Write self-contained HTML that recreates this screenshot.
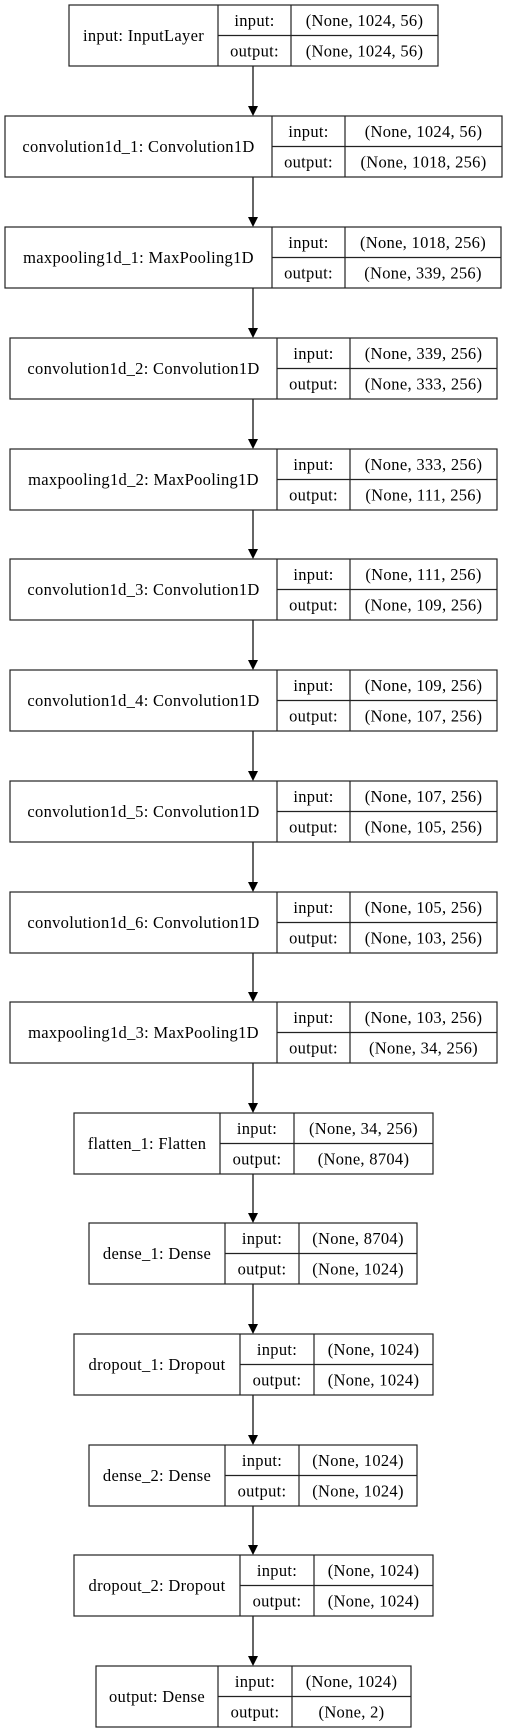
<!DOCTYPE html>
<html><head><meta charset="utf-8"><style>
html,body{margin:0;padding:0;background:#fff}
svg{display:block}
text{font-family:"Liberation Serif",serif;font-size:16.5px;letter-spacing:0.3px;fill:#000;text-anchor:middle}
rect,line.b{fill:none;stroke:#222;stroke-width:1.2}
line.a{stroke:#000;stroke-width:1.2}
</style></head><body>
<svg width="507" height="1733" viewBox="0 0 507 1733" xmlns="http://www.w3.org/2000/svg">
<g>
<line class="a" x1="253" y1="66" x2="253" y2="106"/><polygon points="248,106 258,106 253,116"/>
<line class="a" x1="253" y1="177" x2="253" y2="217"/><polygon points="248,217 258,217 253,227"/>
<line class="a" x1="253" y1="288" x2="253" y2="328"/><polygon points="248,328 258,328 253,338"/>
<line class="a" x1="253" y1="399" x2="253" y2="439"/><polygon points="248,439 258,439 253,449"/>
<line class="a" x1="253" y1="510" x2="253" y2="549"/><polygon points="248,549 258,549 253,559"/>
<line class="a" x1="253" y1="620" x2="253" y2="660"/><polygon points="248,660 258,660 253,670"/>
<line class="a" x1="253" y1="731" x2="253" y2="771"/><polygon points="248,771 258,771 253,781"/>
<line class="a" x1="253" y1="842" x2="253" y2="882"/><polygon points="248,882 258,882 253,892"/>
<line class="a" x1="253" y1="953" x2="253" y2="992"/><polygon points="248,992 258,992 253,1002"/>
<line class="a" x1="253" y1="1063" x2="253" y2="1103"/><polygon points="248,1103 258,1103 253,1113"/>
<line class="a" x1="253" y1="1174" x2="253" y2="1213"/><polygon points="248,1213 258,1213 253,1223"/>
<line class="a" x1="253" y1="1284" x2="253" y2="1324"/><polygon points="248,1324 258,1324 253,1334"/>
<line class="a" x1="253" y1="1395" x2="253" y2="1435"/><polygon points="248,1435 258,1435 253,1445"/>
<line class="a" x1="253" y1="1506" x2="253" y2="1545"/><polygon points="248,1545 258,1545 253,1555"/>
<line class="a" x1="253" y1="1616" x2="253" y2="1656"/><polygon points="248,1656 258,1656 253,1666"/>
</g>

<g transform="translate(0,5)">
<rect x="69" y="0" width="369" height="61"/><line class="b" x1="218" y1="0" x2="218" y2="61"/><line class="b" x1="291" y1="0" x2="291" y2="61"/><line class="b" x1="218" y1="30.5" x2="438" y2="30.5"/>
<text x="143.5" y="36">input: InputLayer</text><text x="254.5" y="21">input:</text><text x="254.5" y="51.5">output:</text><text x="364.5" y="21">(None, 1024, 56)</text><text x="364.5" y="51.5">(None, 1024, 56)</text>
</g>

<g transform="translate(0,116)">
<rect x="5" y="0" width="497" height="61"/><line class="b" x1="272" y1="0" x2="272" y2="61"/><line class="b" x1="345" y1="0" x2="345" y2="61"/><line class="b" x1="272" y1="30.5" x2="502" y2="30.5"/>
<text x="138.5" y="36">convolution1d_1: Convolution1D</text><text x="308.5" y="21">input:</text><text x="308.5" y="51.5">output:</text><text x="423.5" y="21">(None, 1024, 56)</text><text x="423.5" y="51.5">(None, 1018, 256)</text>
</g>

<g transform="translate(0,227)">
<rect x="5" y="0" width="496" height="61"/><line class="b" x1="272" y1="0" x2="272" y2="61"/><line class="b" x1="345" y1="0" x2="345" y2="61"/><line class="b" x1="272" y1="30.5" x2="501" y2="30.5"/>
<text x="138.5" y="36">maxpooling1d_1: MaxPooling1D</text><text x="308.5" y="21">input:</text><text x="308.5" y="51.5">output:</text><text x="423" y="21">(None, 1018, 256)</text><text x="423" y="51.5">(None, 339, 256)</text>
</g>

<g transform="translate(0,338)">
<rect x="10" y="0" width="487" height="61"/><line class="b" x1="277" y1="0" x2="277" y2="61"/><line class="b" x1="350" y1="0" x2="350" y2="61"/><line class="b" x1="277" y1="30.5" x2="497" y2="30.5"/>
<text x="143.5" y="36">convolution1d_2: Convolution1D</text><text x="313.5" y="21">input:</text><text x="313.5" y="51.5">output:</text><text x="423.5" y="21">(None, 339, 256)</text><text x="423.5" y="51.5">(None, 333, 256)</text>
</g>

<g transform="translate(0,449)">
<rect x="10" y="0" width="487" height="61"/><line class="b" x1="277" y1="0" x2="277" y2="61"/><line class="b" x1="350" y1="0" x2="350" y2="61"/><line class="b" x1="277" y1="30.5" x2="497" y2="30.5"/>
<text x="143.5" y="36">maxpooling1d_2: MaxPooling1D</text><text x="313.5" y="21">input:</text><text x="313.5" y="51.5">output:</text><text x="423.5" y="21">(None, 333, 256)</text><text x="423.5" y="51.5">(None, 111, 256)</text>
</g>

<g transform="translate(0,559)">
<rect x="10" y="0" width="487" height="61"/><line class="b" x1="277" y1="0" x2="277" y2="61"/><line class="b" x1="350" y1="0" x2="350" y2="61"/><line class="b" x1="277" y1="30.5" x2="497" y2="30.5"/>
<text x="143.5" y="36">convolution1d_3: Convolution1D</text><text x="313.5" y="21">input:</text><text x="313.5" y="51.5">output:</text><text x="423.5" y="21">(None, 111, 256)</text><text x="423.5" y="51.5">(None, 109, 256)</text>
</g>

<g transform="translate(0,670)">
<rect x="10" y="0" width="487" height="61"/><line class="b" x1="277" y1="0" x2="277" y2="61"/><line class="b" x1="350" y1="0" x2="350" y2="61"/><line class="b" x1="277" y1="30.5" x2="497" y2="30.5"/>
<text x="143.5" y="36">convolution1d_4: Convolution1D</text><text x="313.5" y="21">input:</text><text x="313.5" y="51.5">output:</text><text x="423.5" y="21">(None, 109, 256)</text><text x="423.5" y="51.5">(None, 107, 256)</text>
</g>

<g transform="translate(0,781)">
<rect x="10" y="0" width="487" height="61"/><line class="b" x1="277" y1="0" x2="277" y2="61"/><line class="b" x1="350" y1="0" x2="350" y2="61"/><line class="b" x1="277" y1="30.5" x2="497" y2="30.5"/>
<text x="143.5" y="36">convolution1d_5: Convolution1D</text><text x="313.5" y="21">input:</text><text x="313.5" y="51.5">output:</text><text x="423.5" y="21">(None, 107, 256)</text><text x="423.5" y="51.5">(None, 105, 256)</text>
</g>

<g transform="translate(0,892)">
<rect x="10" y="0" width="487" height="61"/><line class="b" x1="277" y1="0" x2="277" y2="61"/><line class="b" x1="350" y1="0" x2="350" y2="61"/><line class="b" x1="277" y1="30.5" x2="497" y2="30.5"/>
<text x="143.5" y="36">convolution1d_6: Convolution1D</text><text x="313.5" y="21">input:</text><text x="313.5" y="51.5">output:</text><text x="423.5" y="21">(None, 105, 256)</text><text x="423.5" y="51.5">(None, 103, 256)</text>
</g>

<g transform="translate(0,1002)">
<rect x="10" y="0" width="487" height="61"/><line class="b" x1="277" y1="0" x2="277" y2="61"/><line class="b" x1="350" y1="0" x2="350" y2="61"/><line class="b" x1="277" y1="30.5" x2="497" y2="30.5"/>
<text x="143.5" y="36">maxpooling1d_3: MaxPooling1D</text><text x="313.5" y="21">input:</text><text x="313.5" y="51.5">output:</text><text x="423.5" y="21">(None, 103, 256)</text><text x="423.5" y="51.5">(None, 34, 256)</text>
</g>

<g transform="translate(0,1113)">
<rect x="74" y="0" width="359" height="61"/><line class="b" x1="220" y1="0" x2="220" y2="61"/><line class="b" x1="294" y1="0" x2="294" y2="61"/><line class="b" x1="220" y1="30.5" x2="433" y2="30.5"/>
<text x="147" y="36">flatten_1: Flatten</text><text x="257" y="21">input:</text><text x="257" y="51.5">output:</text><text x="363.5" y="21">(None, 34, 256)</text><text x="363.5" y="51.5">(None, 8704)</text>
</g>

<g transform="translate(0,1223)">
<rect x="89" y="0" width="328" height="61"/><line class="b" x1="225" y1="0" x2="225" y2="61"/><line class="b" x1="299" y1="0" x2="299" y2="61"/><line class="b" x1="225" y1="30.5" x2="417" y2="30.5"/>
<text x="157" y="36">dense_1: Dense</text><text x="262" y="21">input:</text><text x="262" y="51.5">output:</text><text x="358" y="21">(None, 8704)</text><text x="358" y="51.5">(None, 1024)</text>
</g>

<g transform="translate(0,1334)">
<rect x="74" y="0" width="359" height="61"/><line class="b" x1="240" y1="0" x2="240" y2="61"/><line class="b" x1="314" y1="0" x2="314" y2="61"/><line class="b" x1="240" y1="30.5" x2="433" y2="30.5"/>
<text x="157" y="36">dropout_1: Dropout</text><text x="277" y="21">input:</text><text x="277" y="51.5">output:</text><text x="373.5" y="21">(None, 1024)</text><text x="373.5" y="51.5">(None, 1024)</text>
</g>

<g transform="translate(0,1445)">
<rect x="89" y="0" width="328" height="61"/><line class="b" x1="225" y1="0" x2="225" y2="61"/><line class="b" x1="299" y1="0" x2="299" y2="61"/><line class="b" x1="225" y1="30.5" x2="417" y2="30.5"/>
<text x="157" y="36">dense_2: Dense</text><text x="262" y="21">input:</text><text x="262" y="51.5">output:</text><text x="358" y="21">(None, 1024)</text><text x="358" y="51.5">(None, 1024)</text>
</g>

<g transform="translate(0,1555)">
<rect x="74" y="0" width="359" height="61"/><line class="b" x1="240" y1="0" x2="240" y2="61"/><line class="b" x1="314" y1="0" x2="314" y2="61"/><line class="b" x1="240" y1="30.5" x2="433" y2="30.5"/>
<text x="157" y="36">dropout_2: Dropout</text><text x="277" y="21">input:</text><text x="277" y="51.5">output:</text><text x="373.5" y="21">(None, 1024)</text><text x="373.5" y="51.5">(None, 1024)</text>
</g>

<g transform="translate(0,1666)">
<rect x="96" y="0" width="315" height="61"/><line class="b" x1="218" y1="0" x2="218" y2="61"/><line class="b" x1="292" y1="0" x2="292" y2="61"/><line class="b" x1="218" y1="30.5" x2="411" y2="30.5"/>
<text x="157" y="36">output: Dense</text><text x="255" y="21">input:</text><text x="255" y="51.5">output:</text><text x="351.5" y="21">(None, 1024)</text><text x="351.5" y="51.5">(None, 2)</text>
</g>
</svg>
</body></html>
